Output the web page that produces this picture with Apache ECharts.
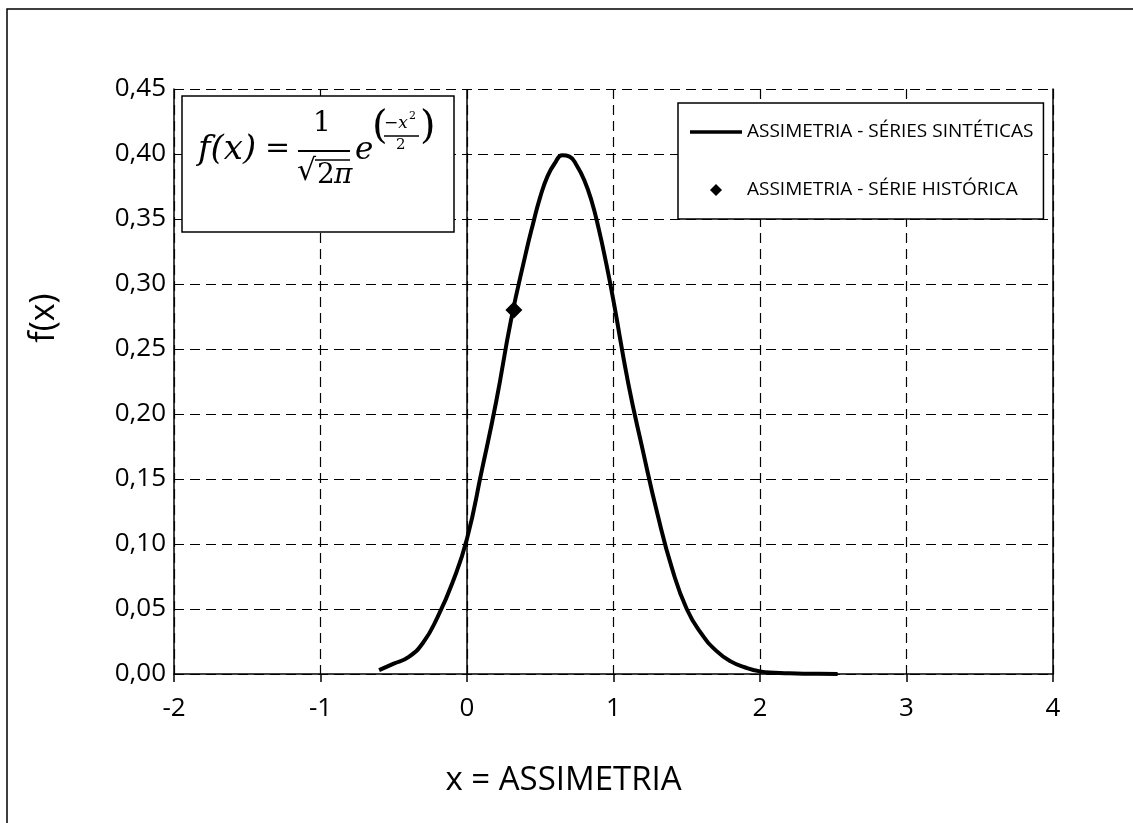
<!DOCTYPE html>
<html>
<head>
<meta charset="utf-8">
<script src="https://cdn.jsdelivr.net/npm/echarts@6/dist/echarts.min.js"></script>
<style>
  html, body { margin: 0; padding: 0; background: #fff; }
  #main { width: 1133px; height: 823px; }
</style>
</head>
<body>
<div id="main"></div>
<script>
// curva das séries sintéticas
const assimetriaX = [-0.6, -0.5, -0.4, -0.3, -0.2, -0.1, 0.0, 0.1, 0.2, 0.3, 0.4, 0.45, 0.5, 0.55, 0.6, 0.65, 0.7, 0.75, 0.8, 0.85, 0.9, 0.95, 1.0, 1.1, 1.2, 1.3, 1.4, 1.5, 1.6, 1.7, 1.8, 1.9, 2.0, 2.1, 2.2, 2.3, 2.4, 2.53];
const densidade = [0.003, 0.008, 0.013, 0.024, 0.044, 0.070, 0.104, 0.156, 0.210, 0.272, 0.323, 0.346, 0.367, 0.383, 0.393, 0.399, 0.398, 0.391, 0.380, 0.364, 0.342, 0.316, 0.287, 0.224, 0.172, 0.123, 0.081, 0.050, 0.031, 0.018, 0.0097, 0.005, 0.002, 0.001, 0.0005, 0.0002, 0.0001, 0.0];
// série histórica
const historicaX = [0.32];
const historicaY = [0.28];

const xTicks = { min: -2, max: 4, interval: 1 };
const yTicks = { min: 0, max: 0.45, interval: 0.05 };

const nomeSinteticas = 'ASSIMETRIA - SÉRIES SINTÉTICAS';
const nomeHistorica = 'ASSIMETRIA - SÉRIE HISTÓRICA';

const FONT = '"Open Sans", sans-serif';
const SERIF = '"DejaVu Serif", serif';

var chart = echarts.init(document.getElementById('main'));

var dashed = { color: '#000', width: 1.2, type: [10, 6] };

var option = {
  backgroundColor: '#fff',
  animation: false,
  textStyle: { fontFamily: FONT, color: '#000' },
  grid: { left: 174, right: 80, top: 89, bottom: 149, containLabel: false, outerBoundsMode: 'none' },
  legend: {
    orient: 'vertical',
    left: 678,
    top: 103,
    padding: [19, 10, 19, 12],
    itemGap: 38,
    itemWidth: 52,
    itemHeight: 12,
    symbolKeepAspect: true,
    backgroundColor: '#fff',
    borderColor: '#000',
    borderWidth: 1.5,
    textStyle: { fontFamily: FONT, fontSize: 19, color: '#000', lineHeight: 20 },
    data: [
      { name: nomeSinteticas, icon: 'path://M0,0 H52 V3.5 H0 Z', itemStyle: { color: '#000' } },
      { name: nomeHistorica, icon: 'path://M6,0 L12,6 L6,12 L0,6 Z', itemStyle: { color: '#000' } }
    ]
  },
  xAxis: {
    type: 'value',
    min: xTicks.min, max: xTicks.max, interval: xTicks.interval,
    axisLine: { show: true, onZero: false, lineStyle: { color: '#000', width: 1.5 } },
    axisTick: { show: true, length: 8, lineStyle: { color: '#000', width: 1.5 } },
    axisLabel: { fontSize: 26, color: '#000', margin: 22 },
    splitLine: { show: true, lineStyle: dashed },
    name: 'x = ASSIMETRIA',
    nameLocation: 'middle',
    nameGap: 90,
    nameTextStyle: { fontSize: 33, color: '#000', padding: [0, 100, 0, 0] }
  },
  yAxis: [{
    type: 'value',
    min: yTicks.min, max: yTicks.max, interval: yTicks.interval,
    axisLine: { show: true, onZero: false, lineStyle: { color: '#000', width: 1.5 } },
    axisTick: { show: false },
    axisLabel: {
      fontSize: 26, color: '#000', margin: 8,
      formatter: function (v) { return v.toFixed(2).replace('.', ','); }
    },
    splitLine: { show: true, lineStyle: dashed }
  }, {
    type: 'value',
    position: 'right',
    min: yTicks.min, max: yTicks.max, interval: yTicks.interval,
    axisLine: { show: true, onZero: false, lineStyle: { color: '#000', width: 1.5 } },
    axisTick: { show: false },
    axisLabel: { show: false },
    splitLine: { show: false }
  }],
  series: [
    {
      name: nomeSinteticas,
      type: 'line',
      data: assimetriaX.map(function (x, i) { return [x, densidade[i]]; }),
      smooth: 0.5,
      showSymbol: false,
      symbol: 'none',
      color: '#000',
      lineStyle: { color: '#000', width: 4 },
      markLine: {
        silent: true,
        symbol: 'none',
        label: { show: false },
        lineStyle: { color: '#000', width: 1.5, type: 'solid' },
        data: [{ xAxis: 0 }]
      },
      z: 3
    },
    {
      name: nomeHistorica,
      type: 'scatter',
      data: historicaX.map(function (x, i) { return [x, historicaY[i]]; }),
      symbol: 'diamond',
      symbolSize: 17,
      color: '#000',
      itemStyle: { color: '#000', opacity: 1 },
      z: 4
    }
  ],
  graphic: [
    // moldura da área do gráfico
    { type: 'rect', z: -1, shape: { x: 7, y: 9, width: 1140, height: 830 },
      style: { fill: 'none', stroke: '#000', lineWidth: 1.5 } },
    // caixa da fórmula
    { type: 'rect', z: 10, shape: { x: 182, y: 96, width: 272, height: 136 },
      style: { fill: '#fff', stroke: '#000', lineWidth: 1.5 } },
    { type: 'text', z: 11, left: 198, top: 133,
      style: { text: 'f(x)', font: 'italic 34px ' + SERIF, fill: '#000' } },
    { type: 'text', z: 11, left: 265, top: 134,
      style: { text: '=', font: '30px ' + SERIF, fill: '#000' } },
    { type: 'text', z: 11, left: 313, top: 110,
      style: { text: '1', font: '28px ' + SERIF, fill: '#000' } },
    { type: 'line', z: 11, shape: { x1: 298, y1: 151, x2: 350, y2: 151 },
      style: { stroke: '#000', lineWidth: 2 } },
    { type: 'text', z: 11, left: 297, top: 157,
      style: { text: '\u221A', font: '30px ' + SERIF, fill: '#000' } },
    { type: 'line', z: 11, shape: { x1: 315, y1: 160, x2: 350, y2: 160 },
      style: { stroke: '#000', lineWidth: 1.5 } },
    { type: 'text', z: 11, left: 317, top: 162,
      style: { text: '2', font: '28px ' + SERIF, fill: '#000' } },
    { type: 'text', z: 11, left: 334, top: 162,
      style: { text: '\u03C0', font: 'italic 28px ' + SERIF, fill: '#000' } },
    { type: 'text', z: 11, left: 355, top: 135,
      style: { text: 'e', font: 'italic 31px ' + SERIF, fill: '#000' } },
    { type: 'text', z: 11, left: 372, top: 108,
      style: { text: '(', font: '40px ' + SERIF, fill: '#000' } },
    { type: 'text', z: 11, left: 384, top: 115,
      style: { text: '\u2212x', font: 'italic 17px ' + SERIF, fill: '#000' } },
    { type: 'text', z: 11, left: 409, top: 111,
      style: { text: '2', font: '11px ' + SERIF, fill: '#000' } },
    { type: 'line', z: 11, shape: { x1: 384, y1: 136, x2: 419, y2: 136 },
      style: { stroke: '#000', lineWidth: 1.5 } },
    { type: 'text', z: 11, left: 396, top: 138,
      style: { text: '2', font: '15px ' + SERIF, fill: '#000' } },
    { type: 'text', z: 11, left: 420, top: 108,
      style: { text: ')', font: '40px ' + SERIF, fill: '#000' } },
    // título do eixo y
    { type: 'text', z: 5, x: 44, y: 318, rotation: Math.PI / 2,
      style: { text: 'f(x)', font: '34px ' + FONT, fill: '#000', align: 'center', verticalAlign: 'middle' } }
  ]
};

chart.setOption(option);
</script>
</body>
</html>
